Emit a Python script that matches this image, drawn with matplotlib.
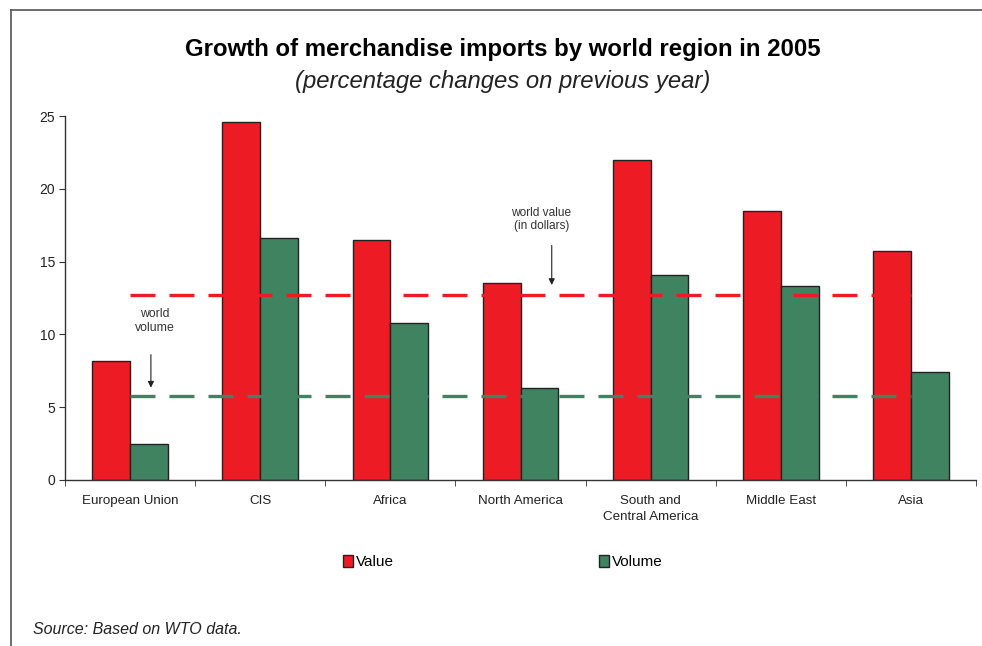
import matplotlib.pyplot as plt
import matplotlib.patches as mpatches
from matplotlib.lines import Line2D
import numpy as np

plt.rcParams['font.family'] = ['Liberation Sans', 'DejaVu Sans']

regions = ['European Union', 'CIS', 'Africa', 'North America',
           'South and\nCentral America', 'Middle East', 'Asia']
value = [8.2, 24.6, 16.5, 13.5, 22.0, 18.5, 15.7]
volume = [2.5, 16.6, 10.8, 6.3, 14.1, 13.3, 7.4]
world_value = 12.7
world_volume = 5.8

red = '#ED1C24'
green = '#3F8360'

fig = plt.figure(figsize=(9.82, 6.46), dpi=100)
ax = fig.add_axes([0.0662, 0.2570, 0.9277, 0.5634])

x = np.arange(len(regions))
w = 0.29
ax.bar(x - w / 2, value, w, color=red, edgecolor='#222222', linewidth=1, zorder=2)
ax.bar(x + w / 2, volume, w, color=green, edgecolor='#222222', linewidth=1, zorder=2)

# world averages, drawn over the bars
ax.plot([x[0], x[-1]], [world_value, world_value], color=red, lw=2.4,
        dashes=(7.5, 4.2), zorder=3)
ax.plot([x[0], x[-1]], [world_volume, world_volume], color=green, lw=2.4,
        dashes=(7.5, 4.2), zorder=3)

ax.annotate('', xy=(0.16, 6.15), xytext=(0.16, 8.8),
            arrowprops=dict(arrowstyle='-|>', color='#222222', lw=0.8,
                            mutation_scale=9))
ax.text(0.19, 10.9, 'world\nvolume', ha='center', va='center', fontsize=8.8,
        color='#333333', linespacing=1.25)
ax.annotate('', xy=(3.24, 13.2), xytext=(3.24, 16.3),
            arrowprops=dict(arrowstyle='-|>', color='#222222', lw=0.8,
                            mutation_scale=9))
ax.text(3.16, 17.9, 'world value\n(in dollars)', ha='center', va='center',
        fontsize=8.6, color='#333333', linespacing=1.15)

ax.set_xlim(-0.5, len(regions) - 0.5)
ax.set_ylim(0, 25)
ax.set_yticks(range(0, 26, 5))
ax.set_xticks(x)
ax.set_xticklabels(regions, fontsize=9.6, color='#222222', linespacing=1.45)
ax.set_xticks(np.arange(-0.5, len(regions), 1), minor=True)
ax.tick_params(axis='x', which='major', length=0, pad=11)
ax.tick_params(axis='x', which='minor', length=4, color='#333333')
ax.tick_params(axis='y', length=4, color='#333333', labelsize=10,
               labelcolor='#222222', pad=3)
for s in ['top', 'right']:
    ax.spines[s].set_visible(False)
for s in ['left', 'bottom']:
    ax.spines[s].set_color('#333333')
    ax.spines[s].set_linewidth(1)

fig.text(0.512, 0.924, 'Growth of merchandise imports by world region in 2005',
         ha='center', va='center', fontsize=17.3, fontweight='bold')
fig.text(0.512, 0.874, '(percentage changes on previous year)',
         ha='center', va='center', fontsize=17.2, style='italic', color='#222222')

handles = [mpatches.Patch(facecolor=red, edgecolor='#222222', label='Value'),
           mpatches.Patch(facecolor=green, edgecolor='#222222', label='Volume')]
fig.legend(handles=handles, loc='center', bbox_to_anchor=(0.512, 0.13), ncol=2,
           frameon=False, fontsize=11, handlelength=0.65, handleheight=0.9,
           handletextpad=0.2, columnspacing=13.4)

fig.text(0.034, 0.025, 'Source: Based on WTO data.', fontsize=11.5,
         style='italic', color='#222222', va='center')

# outer frame: left and top edges only
fig.add_artist(Line2D([11 / 982, 11 / 982], [0, 1 - 10 / 646],
                      color='#555555', lw=1.2))
fig.add_artist(Line2D([11 / 982, 1], [1 - 10 / 646, 1 - 10 / 646],
                      color='#555555', lw=1.2))

fig.savefig('out.png', dpi=100)
